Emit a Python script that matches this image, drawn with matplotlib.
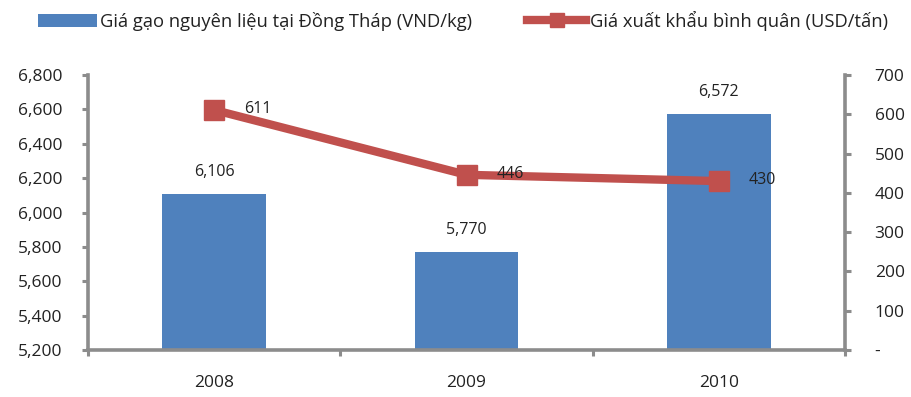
import matplotlib
matplotlib.use("Agg")
import matplotlib.pyplot as plt
from matplotlib.patches import Patch
from matplotlib.lines import Line2D
from matplotlib.ticker import FixedLocator, FuncFormatter

plt.rcParams['font.family'] = ['Open Sans', 'DejaVu Sans']

years = ["2008", "2009", "2010"]
rice_price_vnd = [6106, 5770, 6572]
export_price_usd = [611, 446, 430]
bar_label = "Giá gạo nguyên liệu tại Đồng Tháp (VND/kg)"
line_label = "Giá xuất khẩu bình quân (USD/tấn)"

BLUE = "#4F81BD"
RED = "#C0504D"
GREY = "#8C8C8C"
TXT = "#222222"

fig = plt.figure(figsize=(9.11, 3.97), dpi=100)
ax = fig.add_axes([0.0966, 0.1184, 0.8310, 0.6926])
ax2 = ax.twinx()

x = list(range(len(years)))
ax.bar(x, [v - 5200 for v in rice_price_vnd], bottom=5200, width=0.41, color=BLUE, zorder=2)
ax.set_xlim(-0.5, 2.5)
ax.set_ylim(5200, 6800)
ax.set_yticks(range(5200, 6801, 200))
ax.yaxis.set_major_formatter(FuncFormatter(lambda v, p: f"{int(v):,}"))

ax2.plot(x, export_price_usd, color=RED, lw=6, marker="s", ms=15, zorder=3,
         solid_capstyle="butt")
ax2.set_ylim(0, 700)
ax2.set_yticks(range(0, 701, 100))
ax2.yaxis.set_major_formatter(FuncFormatter(lambda v, p: "-" if v == 0 else f"{int(v)}"))

# category ticks sit on the boundaries between groups
ax.set_xticks(x)
ax.set_xticklabels(years)
ax.xaxis.set_minor_locator(FixedLocator([-0.5, 0.5, 1.5, 2.5]))
ax.tick_params(axis="x", which="major", length=0, pad=18, labelsize=12.5, labelcolor=TXT)
ax.tick_params(axis="x", which="minor", length=4.3, width=2.2, color=GREY, direction="out")
ax.tick_params(axis="y", length=4.3, width=2.2, color=GREY, pad=14, labelsize=12.5, labelcolor=TXT)
ax2.tick_params(axis="y", length=4.3, width=2.2, color=GREY, pad=17, labelsize=12.5, labelcolor=TXT)

for a in (ax, ax2):
    a.spines["top"].set_visible(False)
    for s in ("left", "right", "bottom"):
        a.spines[s].set_color(GREY)
        a.spines[s].set_linewidth(2.6)
ax.spines["right"].set_visible(False)
ax2.spines["left"].set_visible(False)
ax2.spines["bottom"].set_visible(False)

for xi, v in zip(x, rice_price_vnd):
    ax.annotate(f"{v:,}", (xi, v), textcoords="offset pixels", xytext=(0, 22),
                ha="center", va="center", fontsize=11.5, color=TXT)
for xi, v in zip(x, export_price_usd):
    ax2.annotate(f"{v}", (xi, v), textcoords="offset pixels", xytext=(30, 1),
                 ha="left", va="center", fontsize=11.5, color=TXT, zorder=4)

handles = [Patch(facecolor=BLUE, edgecolor="none"),
           Line2D([], [], color=RED, lw=6, marker="s", ms=10)]
fig.legend(handles, [bar_label, line_label], loc="center", bbox_to_anchor=(0.508, 0.948),
           ncol=2, frameon=False, fontsize=13.2, handlelength=3.2, handletextpad=0.2,
           columnspacing=3.0, labelcolor=TXT)

fig.savefig("out.png", dpi=100)
